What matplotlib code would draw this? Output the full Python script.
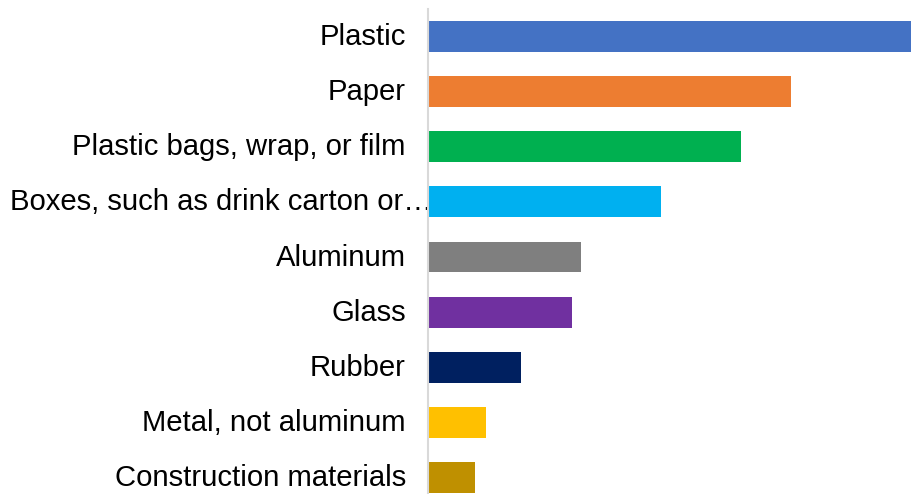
import matplotlib
matplotlib.use("Agg")
import matplotlib.pyplot as plt
from matplotlib.transforms import ScaledTranslation

categories = ["Plastic", "Paper", "Plastic bags, wrap, or film",
              "Boxes, such as drink carton or\u2026", "Aluminum", "Glass",
              "Rubber", "Metal, not aluminum", "Construction materials"]
values = [48.2, 36.2, 31.2, 23.3, 15.3, 14.4, 9.3, 5.8, 4.7]
colors = ["#4472C4", "#ED7D31", "#00B050", "#00B0F0", "#7F7F7F",
          "#7030A0", "#002060", "#FFC000", "#BF9000"]

W, H = 911, 494
fig = plt.figure(figsize=(W / 100, H / 100), dpi=100)
left = 428 / W
top_px, bot_px = 9, 505
ax = fig.add_axes([left, (H - bot_px) / H, 1 - left, (bot_px - top_px) / H])

y = list(range(len(categories)))
ax.barh(y, values, height=0.56, color=colors, zorder=2)
ax.set_ylim(len(categories) - 0.5, -0.5)
ax.set_xlim(0, values[0])

for s in ["top", "right", "bottom"]:
    ax.spines[s].set_visible(False)
ax.spines["left"].set_color("#d9d9d9")
ax.spines["left"].set_linewidth(1.5)
ax.set_xticks([])
ax.set_yticks(y)
ax.set_yticklabels(categories, fontsize=21.1, family=["Liberation Sans", "DejaVu Sans"],
                   color="#000000")
ax.tick_params(axis="y", length=0, pad=16)

for i, lab in enumerate(ax.get_yticklabels()):
    dx = 27 / 100 if i == 3 else 0
    lab.set_transform(lab.get_transform() + ScaledTranslation(dx, 2.5 / 100, fig.dpi_scale_trans))

fig.savefig("out.png", dpi=100)
